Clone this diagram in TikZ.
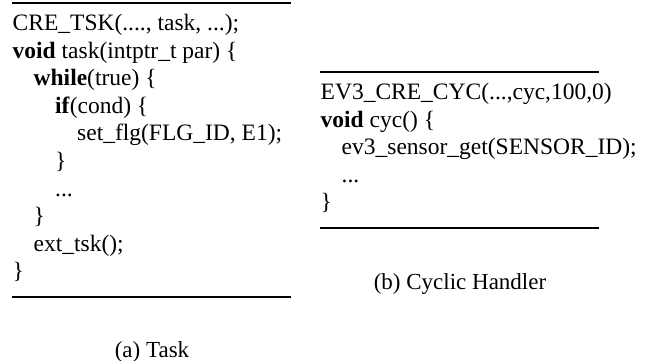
\documentclass[tikz,border=0pt]{standalone}
\usepackage{fontspec}
\setmainfont{Liberation Serif}
\begin{document}
\begin{tikzpicture}[x=1pt,y=-1pt,
  code/.style={anchor=base west,inner sep=0pt,font=\fontsize{23.5}{27}\selectfont},
  caption/.style={anchor=base,inner sep=0pt,font=\fontsize{23}{27}\selectfont},
  rule/.style={line width=1.1pt}]
\useasboundingbox (0,0) rectangle (648,361);

% (a) task listing
\draw[rule] (12,3) -- (291,3);
\node[code] (a1) at (12.5,30.5) {CRE\_TSK(...., task, ...);};
\node[code] (a2) at (12.5,58.1) {\textbf{void} task(intptr\_t par) \{};
\node[code] (a3) at (33.5,85.7) {\textbf{while}(true) \{};
\node[code] (a4) at (55,113.3) {\textbf{if}(cond) \{};
\node[code] (a5) at (77,140.9) {set\_flg(FLG\_ID, E1);};
\node[code] (a6) at (55,168.5) {\}};
\node[code] (a7) at (55,196.1) {...};
\node[code] (a8) at (33.5,223.7) {\}};
\node[code] (a9) at (33.5,251.3) {ext\_tsk();};
\node[code] (a10) at (12.5,278.9) {\}};
\draw[rule] (12,297) -- (291,297);
\node[caption] (capa) at (152,357) {(a) Task};

% (b) cyclic handler listing
\draw[rule] (320,72) -- (599,72);
\node[code] (b1) at (320.5,99.5) {EV3\_CRE\_CYC(...,cyc,100,0)};
\node[code] (b2) at (320.5,127.1) {\textbf{void} cyc() \{};
\node[code] (b3) at (341.5,154.7) {ev3\_sensor\_get(SENSOR\_ID);};
\node[code] (b4) at (341.5,182.3) {...};
\node[code] (b5) at (320.5,209.9) {\}};
\draw[rule] (320,228) -- (599,228);
\node[caption] (capb) at (460,289) {(b) Cyclic Handler};
\end{tikzpicture}
\end{document}
